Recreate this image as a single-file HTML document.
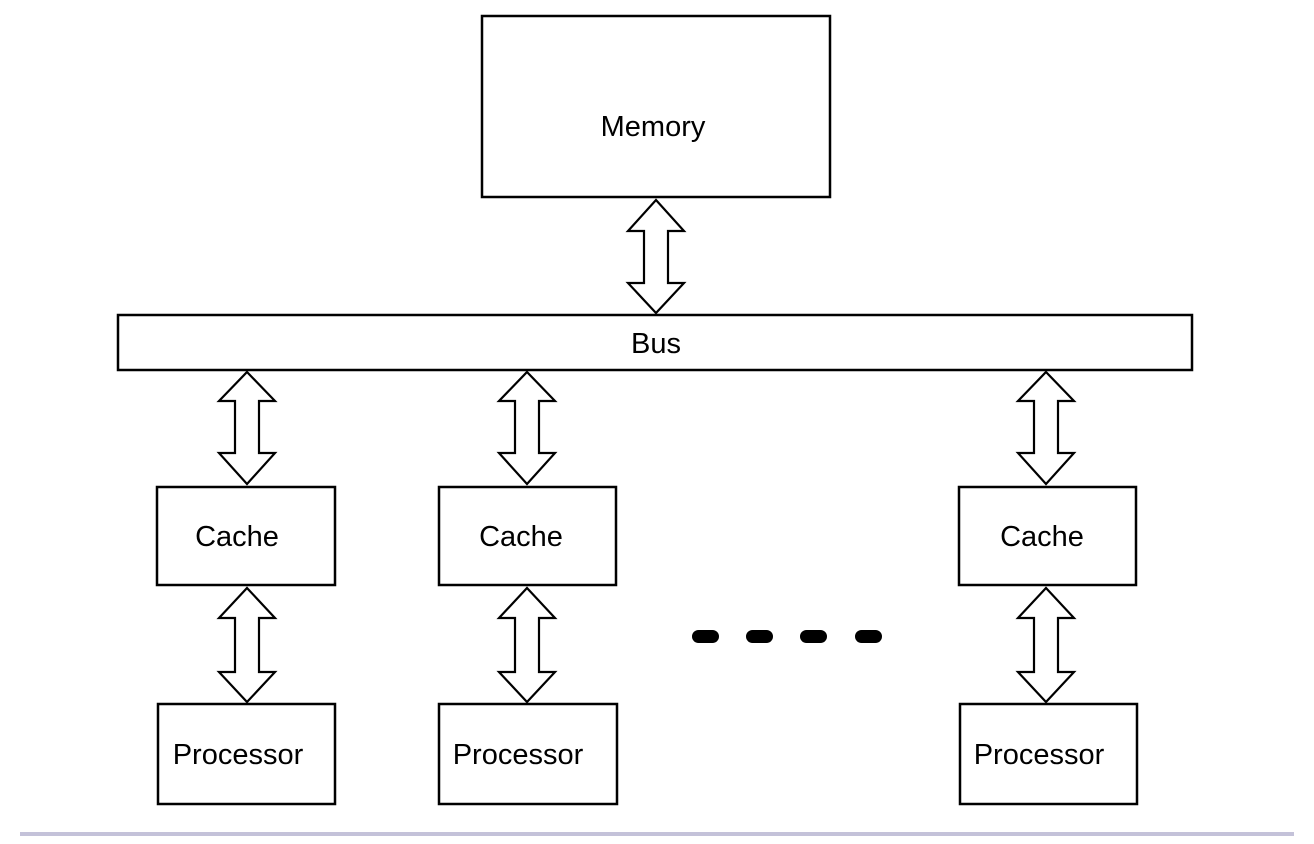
<!DOCTYPE html>
<html><head><meta charset="utf-8"><style>
html,body{margin:0;padding:0;background:#fff;}
svg{display:block;}
text{font-family:"Liberation Sans",sans-serif;font-size:29px;fill:#000;}
</style></head><body>
<svg width="1314" height="844" viewBox="0 0 1314 844" xmlns="http://www.w3.org/2000/svg">
<g fill="#fff" stroke="#000" stroke-width="2.5">
<rect x="482" y="16" width="348" height="181"/>
<rect x="118" y="315" width="1074" height="55"/>
<rect x="157" y="487" width="178" height="98"/>
<rect x="439" y="487" width="177" height="98"/>
<rect x="959" y="487" width="177" height="98"/>
<rect x="158" y="704" width="177" height="100"/>
<rect x="439" y="704" width="178" height="100"/>
<rect x="960" y="704" width="177" height="100"/>
</g>
<g fill="#fff" stroke="#000" stroke-width="2.2" stroke-linejoin="miter">
<path d="M656 200 L684 231 L668 231 L668 283 L684 283 L656 313 L628 283 L644 283 L644 231 L628 231 Z"/>
<path d="M247 372 L275 401 L259 401 L259 453 L275 453 L247 484 L219 453 L235 453 L235 401 L219 401 Z"/>
<path d="M527 372 L555 401 L539 401 L539 453 L555 453 L527 484 L499 453 L515 453 L515 401 L499 401 Z"/>
<path d="M1046 372 L1074 401 L1058 401 L1058 453 L1074 453 L1046 484 L1018 453 L1034 453 L1034 401 L1018 401 Z"/>
<path d="M247 588 L275 618 L259 618 L259 672 L275 672 L247 702 L219 672 L235 672 L235 618 L219 618 Z"/>
<path d="M527 588 L555 618 L539 618 L539 672 L555 672 L527 702 L499 672 L515 672 L515 618 L499 618 Z"/>
<path d="M1046 588 L1074 618 L1058 618 L1058 672 L1074 672 L1046 702 L1018 672 L1034 672 L1034 618 L1018 618 Z"/>
</g>
<g fill="#000">
<rect x="692" y="630" width="27" height="13" rx="6.5"/>
<rect x="746" y="630" width="27" height="13" rx="6.5"/>
<rect x="800" y="630" width="27" height="13" rx="6.5"/>
<rect x="855" y="630" width="27" height="13" rx="6.5"/>
</g>
<rect x="20" y="832" width="1274" height="4" fill="#c4c2d9"/>
<g text-anchor="middle">
<text x="653" y="136">Memory</text>
<text x="656" y="353">Bus</text>
<text x="237" y="546">Cache</text>
<text x="521" y="546">Cache</text>
<text x="1042" y="546">Cache</text>
<text x="238" y="764">Processor</text>
<text x="518" y="764">Processor</text>
<text x="1039" y="764">Processor</text>
</g>
</svg>
</body></html>
